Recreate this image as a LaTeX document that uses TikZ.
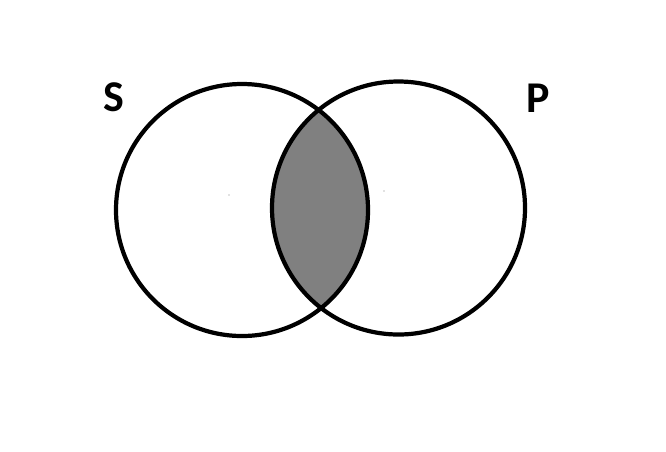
\documentclass[tikz,border=0pt]{standalone}
\usepackage{fontspec}
\setmainfont{Carlito}
\usepackage{tikz}
\usetikzlibrary{positioning}

\tikzset{
  ring/.style={line width=2.4pt},
  setlabel/.style={font=\fontsize{25}{30}\selectfont\bfseries, inner sep=0pt}
}

\begin{document}
\begin{tikzpicture}
\useasboundingbox (0, 0) rectangle (13.32, 9.02);
% shaded overlap
\begin{scope}
\clip (4.84, 4.82) circle (2.52);
\fill[gray] (7.97, 4.86) circle (2.53);
\end{scope}
\draw[ring] (4.84, 4.82) circle (2.52);
\draw[ring] (7.97, 4.86) circle (2.53);

\fill[gray] (4.58, 5.12) circle (0.012);
\fill[gray] (7.68, 5.2) circle (0.012);

\node[setlabel] (S) at (2.28, 7.08) {S};
\node[setlabel] (P) at (10.77, 7.05) {P};
\end{tikzpicture}
\end{document}
